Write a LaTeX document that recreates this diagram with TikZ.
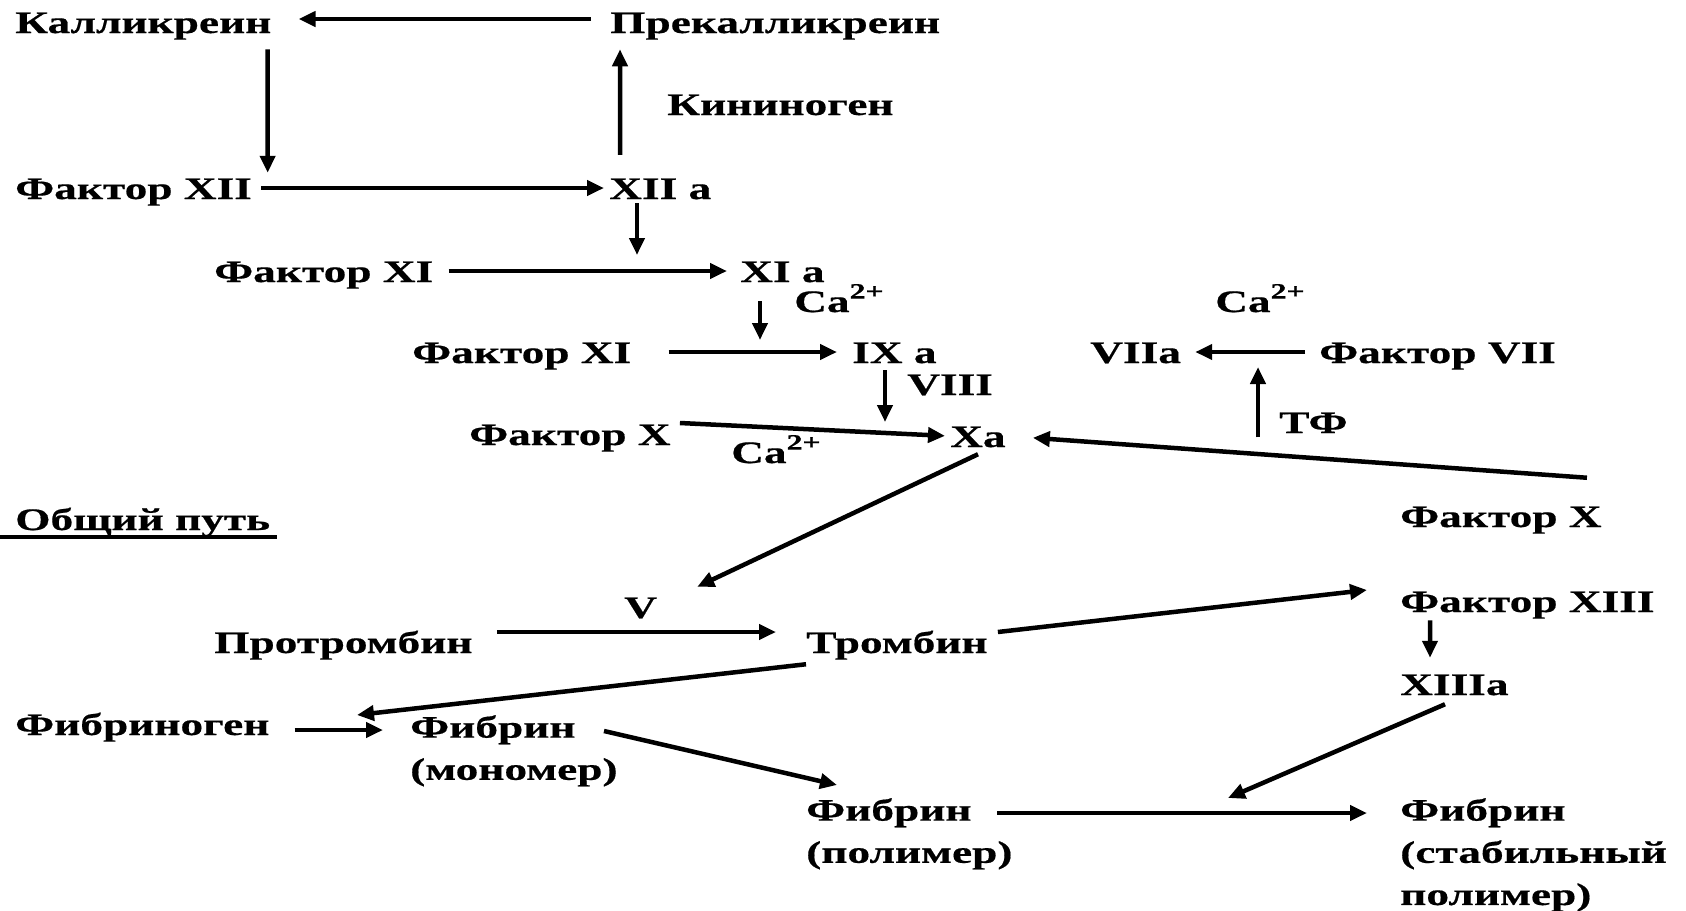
\documentclass[tikz,border=0pt]{standalone}
\usepackage{fontspec}
\setmainfont{Liberation Serif}[FakeStretch=1.45,BoldFeatures={FakeBold=0.5}]
\usetikzlibrary{arrows.meta}

\begin{document}
\begin{tikzpicture}[x=0.1mm,y=-0.1mm,line width=0.45mm]
\tikzstyle{every node}+=[inner sep=0pt]
\tikzstyle{lbl}=[anchor=base west,font=\fontsize{8.9pt}{12pt}\selectfont\bfseries,text height=2.4mm,text depth=.2mm]
\tikzstyle{lbl2}=[anchor=north west,align=left,font=\fontsize{8.9pt}{12pt}\selectfont\bfseries]
\tikzstyle{arr}=[-{Triangle[length=1.7mm,width=1.5mm]}]
\useasboundingbox (0,0) rectangle (1686,911);
\node[lbl] (kal) at (13,33) {Калликреин};
\node[lbl] (prek) at (608,33) {Прекалликреин};
\node[lbl] (kin) at (665,115) {Кининоген};
\node[lbl] (f12) at (13,199) {Фактор XII};
\node[lbl] (x12a) at (607,199) {XII a};
\node[lbl] (f11) at (212,282) {Фактор XI};
\node[lbl] (x11a) at (738,282) {XI a};
\node[lbl] (ca1) at (792,312) {Ca\textsuperscript{2+}};
\node[lbl] (f11b) at (410,363) {Фактор XI};
\node[lbl] (x9a) at (850,363) {IX a};
\node[lbl] (f8) at (905,395) {VIII};
\node[lbl] (f10) at (467,445) {Фактор X};
\node[lbl] (xa) at (948,447) {Xa};
\node[lbl] (ca2) at (729,463) {Ca\textsuperscript{2+}};
\node[lbl] (ca3) at (1213,312) {Ca\textsuperscript{2+}};
\node[lbl] (x7a) at (1088,363) {VIIa};
\node[lbl] (f7) at (1317,363) {Фактор VII};
\node[lbl] (tf) at (1277,433) {ТФ};
\node[lbl] (f10r) at (1398,527) {Фактор X};
\node[lbl] (obsh) at (13,530) {Общий путь};
\node[lbl] (f5) at (622,618) {V};
\node[lbl] (prot) at (212,653) {Протромбин};
\node[lbl] (thr) at (804,653) {Тромбин};
\node[lbl] (f13) at (1398,612) {Фактор XIII};
\node[lbl] (x13a) at (1398,695) {XIIIa};
\node[lbl] (fgen) at (13,735) {Фибриноген};
\node[lbl2] (fmono) at (408,713) {Фибрин\\(мономер)};
\node[lbl2] (fpoly) at (804,796) {Фибрин\\(полимер)};
\node[lbl2] (fstab) at (1398,796) {Фибрин\\(стабильный\\полимер)};
\coordinate (c1) at (637,255);
\coordinate (c2) at (760,340);
\coordinate (c3) at (885,422);
\coordinate (c4) at (1258,367);
\coordinate (c5) at (357,715);
\coordinate (c6) at (1228,798);
\draw[arr,shorten <=1.7mm,shorten >=2.5mm] ([yshift=.3mm]prek.west) -- ([yshift=.3mm]kal.east);
\draw[arr] ([shift={(-6,12)}]kal.south east) -- ([xshift=-.6mm]kal.south east |- f12.north);
\draw[arr,shorten <=.7mm,shorten >=.3mm] (f12.east) -- (x12a.west);
\draw[arr,shorten >=1.2mm] ([shift={(13,-18)}]x12a.north west) -- ([xshift=1.3mm]x12a.north west |- prek.south);
\draw[arr] (x12a.south -| c1) -- (c1);
\draw[arr,shorten <=1.3mm,shorten >=1.1mm] (f11.east) -- (x11a.west);
\draw[arr] ([yshift=-1.5mm]x11a.south -| c2) -- (c2);
\draw[arr,shorten <=3.5mm,shorten >=1.3mm] (f11b.east) -- (x9a.west);
\draw[arr] ([yshift=-.3mm]x9a.south -| c3) -- (c3);
\draw[arr,shorten >=.3mm] ([shift={(7,-11)}]f10.east) -- (xa.west);
\draw[arr,shorten >=2.5mm] ([shift={(-17,-23)}]f10r.north east) -- (xa.east);
\draw[arr,shorten <=1.2mm,shorten >=1.2mm] (f7.west) -- (x7a.east);
\draw[arr] (tf.south -| c4) -- (c4);
\draw[arr] ([shift={(30,3)}]xa.south west) -- ([shift={(38,-5)}]f5.north east);
\draw[arr,shorten <=2.2mm,shorten >=2.8mm] ([yshift=1mm]prot.east) -- ([yshift=1mm]thr.west);
\draw[arr] ([shift={(8,-10)}]thr.east) -- ([shift={(-31,-11)}]f13.west);
\draw[arr] ([shift={(2,7)}]thr.south west) -- (c5);
\draw[arr,shorten <=2.3mm,shorten >=2.5mm] ([yshift=-.6mm]fgen.east) -- ([yshift=-.6mm]fgen.east -| fmono.west);
\draw[arr] ([shift={(196,18)}]fmono.north west) -- ([shift={(33,-11)}]fpoly.north west);
\draw[arr] ([shift={(193,17)}]fpoly.north west) -- ([shift={(-31,17)}]fstab.north west);
\draw[arr,shorten >=1.1mm] ([shift={(32,4)}]f13.south west) -- ([xshift=3.2mm]f13.south west |- x13a.north);
\draw[arr] ([shift={(47,5)}]x13a.south west) -- (c6);
\draw[line width=.45mm] ([shift={(-13,7)}]obsh.base west) -- ([shift={(264,7)}]obsh.base west);
\end{tikzpicture}
\end{document}
